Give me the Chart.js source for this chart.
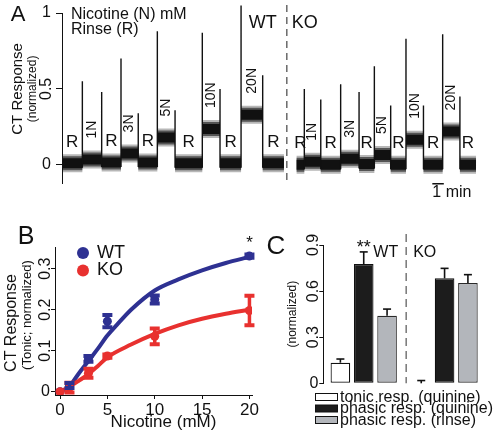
<!DOCTYPE html>
<html>
<head>
<meta charset="utf-8">
<script src="https://cdn.jsdelivr.net/npm/chart.js@4.4.1/dist/chart.umd.min.js"></script>
<style>
  html, body { margin: 0; padding: 0; background: #fff; }
  #fig { position: relative; width: 494px; height: 438px; overflow: hidden; }
  canvas { position: absolute; }
  #traceCanvas { left: 0; top: 0; }
  #doseCanvas { left: 0; top: 205px; }
  #barCanvas { left: 262px; top: 205px; }
</style>
</head>
<body>
<div id="fig">
  <canvas id="traceCanvas" width="494" height="205"></canvas>
  <canvas id="doseCanvas" width="262" height="233"></canvas>
  <canvas id="barCanvas" width="232" height="233"></canvas>
</div>
<script>
// A: CT trace, time in minutes, response normalized
const segmentLabels = ["R", "1N", "R", "3N", "R", "5N", "R", "10N", "R", "20N", "R"];
const wtTimes  = [0, 1.77, 3.45, 5.13, 6.63, 8.29, 9.83, 12.2, 13.74, 15.57, 17.45, 19.3];
const wtLevels = [0.01, 0.035, 0.015, 0.075, 0.015, 0.18, 0.01, 0.235, 0.01, 0.33, 0.01];
const wtPeaks  = [0.55, 0.48, 0.70, 0.34, 0.88, 0.36, 0.87, 0.50, 1.05, 0.59];
const koTimes  = [20.4, 21.07, 22.5, 24.23, 25.83, 27.16, 28.58, 29.91, 31.43, 33.1, 34.6, 36.0];
const koLevels = [0.0, 0.02, 0.0, 0.04, 0.005, 0.065, 0.0, 0.165, 0.0, 0.22, 0.0];
const koPeaks  = [0.50, 0.43, 0.53, 0.48, 0.65, 0.39, 0.83, 0.39, 0.86, 0.45];
const groupDivider = 19.55;
const scaleBarMin = [32.2, 33.2];
const traceTicks = [0, 0.5, 1];

// B: tonic response vs nicotine
const nicotineMM = [0, 1, 3, 5, 10, 20];
const wtTonic    = [0, 0.015, 0.08, 0.172, 0.225, 0.331];
const wtTonicErr = [0, 0.006, 0.007, 0.015, 0.01, 0.004];
const koTonic    = [0, 0.01, 0.045, 0.087, 0.135, 0.198];
const koTonicErr = [0, 0.012, 0.011, 0.004, 0.019, 0.036];
const wtFitX = [0.8, 2, 3, 4, 5, 6, 7.5, 10, 12.5, 15, 17.5, 20];
const wtFitY = [0.005, 0.045, 0.075, 0.105, 0.137, 0.163, 0.2, 0.247, 0.274, 0.296, 0.314, 0.329];
const koFitX = [0, 1, 2, 3, 4, 5, 7.5, 10, 12.5, 15, 17.5, 20];
const koFitY = [0, 0.012, 0.027, 0.043, 0.063, 0.084, 0.115, 0.141, 0.162, 0.178, 0.19, 0.2];
const doseTicksX = [0, 5, 10, 15, 20];
const doseTicksY = [0, 0.1, 0.2, 0.3];

// C: quinine responses
const groups = ["WT", "KO"];
const respLabels = ["tonic resp. (quinine)", "phasic resp. (quinine)", "phasic resp. (rinse)"];
const tonicQuinine     = [0.134, 0.0];
const tonicQuinineErr  = [0.024, 0.018];
const phasicQuinine    = [0.776, 0.683];
const phasicQuinineErr = [0.079, 0.065];
const phasicRinse      = [0.439, 0.652];
const phasicRinseErr   = [0.044, 0.055];
const barTicks = [0, 0.3, 0.6, 0.9];

const INK = '#111';
const FONT = '"Liberation Sans", Arial, Helvetica, sans-serif';
const BLUE = '#2e3192';
const RED = '#e8312f';

function drawText(ctx, str, x, y, size, align = 'center', baseline = 'middle') {
  ctx.font = size + 'px ' + FONT;
  ctx.textAlign = align;
  ctx.textBaseline = baseline;
  ctx.fillStyle = INK;
  ctx.fillText(str, x, y);
}

function drawVText(ctx, str, x, y, size, align = 'center', baseline = 'middle') {
  ctx.save();
  ctx.translate(x, y);
  ctx.rotate(-Math.PI / 2);
  drawText(ctx, str, 0, 0, size, align, baseline);
  ctx.restore();
}

// y tick labels are turned on their side, single digits stay upright
function drawYTickLabels(chart, gap, size) {
  const s = chart.scales.y;
  const x = chart.chartArea.left - gap;
  s.ticks.forEach(t => {
    const label = String(t.value);
    const y = s.getPixelForValue(t.value);
    if (label.length === 1) drawText(chart.ctx, label, x, y, size, 'right', 'middle');
    else drawVText(chart.ctx, label, x, y, size, 'center', 'alphabetic');
  });
}

function yAxis(min, max, ticks, width, tickLen) {
  return {
    min: min, max: max,
    afterBuildTicks: s => { s.ticks = ticks.map(v => ({ value: v })); },
    afterFit: s => { s.width = width; },
    ticks: { display: false },
    grid: { drawOnChartArea: false, tickLength: tickLen, color: INK },
    border: { color: INK, width: 1 }
  };
}

// ---------- A ----------
function bandData(times, levels) {
  const pts = [];
  levels.forEach((lv, i) => {
    pts.push({ x: times[i], y: lv }, { x: times[i + 1], y: lv }, { x: times[i + 1], y: null });
  });
  return pts;
}
function spikeData(times, levels, peaks) {
  const pts = [];
  peaks.forEach((p, i) => {
    const t = times[i + 1];
    pts.push({ x: t, y: Math.min(levels[i], levels[i + 1]) - 0.03 }, { x: t, y: p }, { x: t, y: null });
  });
  return pts;
}
const band = bandData(wtTimes, wtLevels).concat(bandData(koTimes, koLevels));
const spikes = spikeData(wtTimes, wtLevels, wtPeaks).concat(spikeData(koTimes, koLevels, koPeaks));

const tracePlugin = {
  id: 'traceText',
  afterDraw(chart) {
    const { ctx, chartArea: ca, scales: { x, y } } = chart;
    drawYTickLabels(chart, 11, 16);
    drawText(ctx, 'A', 18, 15, 22);
    drawText(ctx, 'Nicotine (N) mM', ca.left + 9, 15, 16, 'left');
    drawText(ctx, 'Rinse (R)', ca.left + 9, 29.5, 16, 'left');
    drawVText(ctx, 'CT Response', 18, y.getPixelForValue(0.5), 15);
    drawVText(ctx, '(normalized)', 33, y.getPixelForValue(0.5), 12);

    const dx = x.getPixelForValue(groupDivider);
    ctx.save();
    ctx.strokeStyle = '#444';
    ctx.lineWidth = 1.2;
    ctx.setLineDash([7, 5]);
    ctx.beginPath();
    ctx.moveTo(dx, 5);
    ctx.lineTo(dx, ca.bottom + 2);
    ctx.stroke();
    ctx.restore();
    drawText(ctx, 'WT', dx - 10, 23, 18, 'right');
    drawText(ctx, 'KO', dx + 5, 23, 18, 'left');

    [[wtTimes, wtLevels], [koTimes, koLevels]].forEach(([times, levels]) => {
      segmentLabels.forEach((lab, i) => {
        const px = x.getPixelForValue((times[i] + times[i + 1]) / 2);
        const py = y.getPixelForValue(levels[i]);
        if (lab === 'R') drawText(ctx, lab, px, py - 21, 17);
        else drawVText(ctx, lab, px, py - 21, 14, 'left');
      });
    });
    drawText(ctx, '1 min', x.getPixelForValue(scaleBarMin[0]), 193, 16, 'left');
  }
};

const lineBase = { pointRadius: 0, clip: false, borderCapStyle: 'butt' };

new Chart(document.getElementById('traceCanvas'), {
  type: 'line',
  data: {
    datasets: [
      { ...lineBase, data: spikes, borderColor: INK, borderWidth: 1.4 },
      { ...lineBase, data: band, borderColor: INK, borderWidth: 10 },
      { ...lineBase, data: band, borderColor: 'rgba(17,17,17,0.6)', borderWidth: 14 },
      { ...lineBase, data: band, borderColor: 'rgba(17,17,17,0.3)', borderWidth: 18 },
      { ...lineBase, data: scaleBarMin.map(t => ({ x: t, y: -0.125 })), borderColor: INK, borderWidth: 1.5 }
    ]
  },
  options: {
    responsive: false, animation: false, devicePixelRatio: 1,
    spanGaps: false,
    layout: { padding: { top: 13, right: 12, bottom: 22, left: 0 } },
    plugins: { legend: { display: false }, tooltip: { enabled: false } },
    scales: {
      x: { type: 'linear', display: false, min: 0, max: 36.52 },
      y: yAxis(-0.12, 1, traceTicks, 62, 6)
    }
  },
  plugins: [tracePlugin]
});

// ---------- B ----------
function drawErrorBars(chart, capW, stemW, capH, upOnly) {
  const ctx = chart.ctx, y = chart.scales.y;
  chart.data.datasets.forEach((ds, di) => {
    if (!ds.errors) return;
    const meta = chart.getDatasetMeta(di);
    ctx.save();
    ctx.strokeStyle = ds.errorColor || ds.borderColor;
    meta.data.forEach((el, i) => {
      const e = ds.errors[i];
      if (!e) return;
      const v = typeof ds.data[i] === 'object' ? ds.data[i].y : ds.data[i];
      const top = y.getPixelForValue(v + e);
      const bot = upOnly ? y.getPixelForValue(v) : y.getPixelForValue(v - e);
      ctx.lineWidth = stemW;
      ctx.beginPath(); ctx.moveTo(el.x, top); ctx.lineTo(el.x, bot); ctx.stroke();
      ctx.lineWidth = capH;
      ctx.beginPath();
      ctx.moveTo(el.x - capW / 2, top); ctx.lineTo(el.x + capW / 2, top);
      if (!upOnly) { ctx.moveTo(el.x - capW / 2, bot); ctx.lineTo(el.x + capW / 2, bot); }
      ctx.stroke();
    });
    ctx.restore();
  });
}

const dosePlugin = {
  id: 'doseExtras',
  afterDatasetsDraw(chart) { drawErrorBars(chart, 10, 3.5, 4, false); },
  afterDraw(chart) {
    const { ctx, chartArea: ca, scales: { x, y } } = chart;
    drawYTickLabels(chart, 5, 16);
    drawText(ctx, 'B', 26, 32, 25);
    const cy = (ca.top + ca.bottom) / 2;
    drawVText(ctx, 'CT Response', 12, cy + 2, 16);
    drawVText(ctx, '(Tonic; normalized)', 27, cy - 6, 13);
    drawText(ctx, 'Nicotine (mM)', (ca.left + ca.right) / 2 + 10, 217, 17);
    [['WT', BLUE], ['KO', RED]].forEach(([lab, col], i) => {
      const ly = ca.top + 6 + i * 17.5;
      ctx.fillStyle = col;
      ctx.beginPath(); ctx.arc(ca.left + 28, ly, 6, 0, Math.PI * 2); ctx.fill();
      drawText(ctx, lab, ca.left + 42, ly, 18, 'left');
    });
    const last = nicotineMM.length - 1;
    drawText(ctx, '*', x.getPixelForValue(nicotineMM[last]), y.getPixelForValue(wtTonic[last]) - 13, 17);
  }
};

const xy = (xs, ys) => xs.map((v, i) => ({ x: v, y: ys[i] }));

new Chart(document.getElementById('doseCanvas'), {
  type: 'line',
  data: {
    datasets: [
      { label: 'KO', data: xy(nicotineMM, koTonic), errors: koTonicErr, showLine: false,
        borderColor: RED, pointBackgroundColor: RED, pointBorderWidth: 0, pointRadius: 4.5 },
      { label: 'WT', data: xy(nicotineMM, wtTonic), errors: wtTonicErr, showLine: false,
        borderColor: BLUE, pointBackgroundColor: BLUE, pointBorderWidth: 0, pointRadius: 4.5 },
      { label: 'KO fit', data: xy(koFitX, koFitY), borderColor: RED, borderWidth: 4,
        pointRadius: 0, cubicInterpolationMode: 'monotone' },
      { label: 'WT fit', data: xy(wtFitX, wtFitY), borderColor: BLUE, borderWidth: 4,
        pointRadius: 0, cubicInterpolationMode: 'monotone' }
    ]
  },
  options: {
    responsive: false, animation: false, devicePixelRatio: 1,
    layout: { padding: { top: 42, right: 10, bottom: 0, left: 0 } },
    plugins: { legend: { display: false }, tooltip: { enabled: false } },
    scales: {
      x: {
        type: 'linear', min: -0.53, max: 20.27,
        afterBuildTicks: s => { s.ticks = doseTicksX.map(v => ({ value: v })); },
        afterFit: s => { s.height = 43; },
        ticks: { font: { family: FONT, size: 17 }, color: INK, padding: 1, maxRotation: 0, autoSkip: false },
        grid: { drawOnChartArea: false, tickLength: 4, color: INK },
        border: { color: INK, width: 1 }
      },
      y: yAxis(-0.008, 0.353, doseTicksY, 55, 4)
    }
  },
  plugins: [dosePlugin]
});

// ---------- C ----------
const barPlugin = {
  id: 'barExtras',
  afterDatasetsDraw(chart) { drawErrorBars(chart, 8, 1.6, 1.6, true); },
  afterDraw(chart) {
    const { ctx, chartArea: ca, scales: { x, y } } = chart;
    drawYTickLabels(chart, 5, 16);
    drawText(ctx, 'C', 14, 42, 26);
    drawVText(ctx, '(normalized)', 31, (ca.top + ca.bottom) / 2, 12);

    const dx = (x.getPixelForValue(0) + x.getPixelForValue(1)) / 2 + 2;
    ctx.save();
    ctx.strokeStyle = '#555';
    ctx.lineWidth = 1.2;
    ctx.setLineDash([8, 5]);
    ctx.beginPath(); ctx.moveTo(dx, ca.top - 11); ctx.lineTo(dx, ca.bottom); ctx.stroke();
    ctx.restore();
    drawText(ctx, 'WT', dx - 8, 48, 16, 'right');
    drawText(ctx, 'KO', dx + 7, 48, 16, 'left');

    const bar = chart.getDatasetMeta(1).data[0];
    drawText(ctx, '**', bar.x, y.getPixelForValue(phasicQuinine[0] + phasicQuinineErr[0]) - 4, 18);

    chart.data.datasets.forEach((ds, i) => {
      const ly = 192 + i * 11.5;
      ctx.fillStyle = ds.backgroundColor;
      ctx.fillRect(53, ly - 3.5, 22, 7);
      ctx.strokeStyle = INK;
      ctx.lineWidth = 1;
      ctx.strokeRect(53.5, ly - 3.5, 22, 7);
      drawText(ctx, ds.label, 78, ly + 0.5, 16, 'left');
    });
  }
};

new Chart(document.getElementById('barCanvas'), {
  type: 'bar',
  data: {
    labels: groups,
    datasets: [
      { label: respLabels[0], data: tonicQuinine, errors: tonicQuinineErr, backgroundColor: '#ffffff',
        borderColor: INK, errorColor: INK, borderWidth: 1.2, borderSkipped: false },
      { label: respLabels[1], data: phasicQuinine, errors: phasicQuinineErr, backgroundColor: '#1c1c1c',
        borderColor: INK, errorColor: INK, borderWidth: 1.2, borderSkipped: false },
      { label: respLabels[2], data: phasicRinse, errors: phasicRinseErr, backgroundColor: '#b3b6bb',
        borderColor: '#2a2a2a', errorColor: INK, borderWidth: 1.2, borderSkipped: false }
    ]
  },
  options: {
    responsive: false, animation: false, devicePixelRatio: 1,
    categoryPercentage: 0.866, barPercentage: 0.84,
    layout: { padding: { top: 40, right: 9, bottom: 54.7, left: 0 } },
    plugins: { legend: { display: false }, tooltip: { enabled: false } },
    scales: {
      x: { display: false },
      y: yAxis(0, 0.9, barTicks, 61.3, 4)
    }
  },
  plugins: [barPlugin]
});
</script>
</body>
</html>
